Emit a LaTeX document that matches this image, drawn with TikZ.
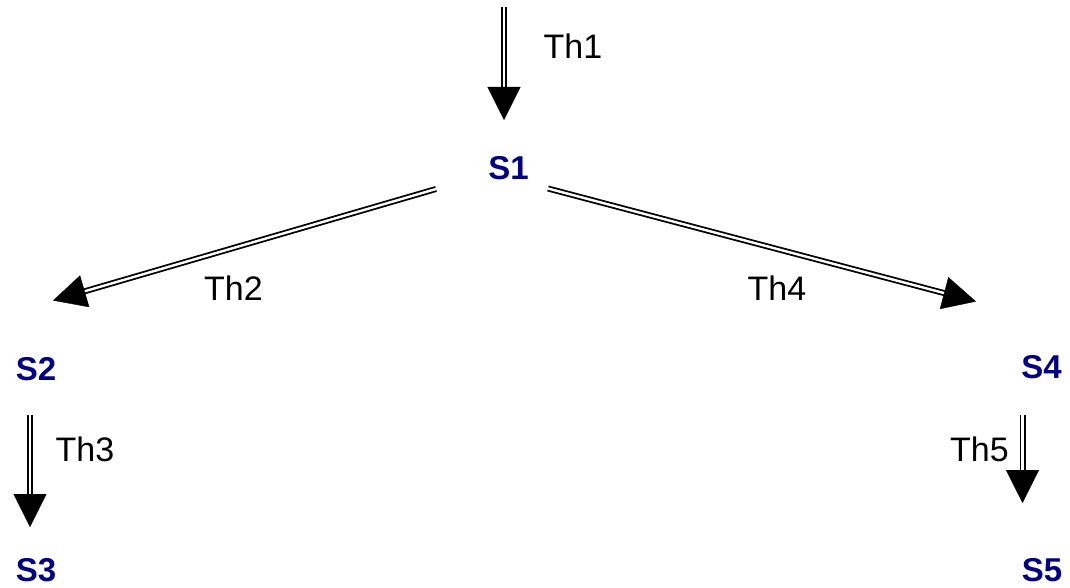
\documentclass[tikz,border=0pt]{standalone}
\usepackage{fontspec}
\setmainfont{Liberation Sans}
\usetikzlibrary{arrows.meta,calc}
\definecolor{statecol}{RGB}{0,0,128}
\begin{document}
\begin{tikzpicture}[x=1pt,y=-1pt,
  state/.style={inner sep=0pt, text=statecol, font=\fontsize{33}{38}\selectfont\bfseries},
  thlabel/.style={inner sep=0pt, font=\fontsize{34}{40}\selectfont},
  shaft/.style={line width=1.8pt, double=white, double distance=2.4pt, shorten >=31pt},
  head/.style={line width=0.4pt, -{Triangle[length=33pt,width=33pt]}}]
\useasboundingbox (0,0) rectangle (1070,588);

% states
\node[state] (s1) at (508.5,168.5) {S1};
\node[state] (s2) at (36,369) {S2};
\node[state] (s3) at (36,570) {S3};
\node[state] (s4) at (1041.5,367.5) {S4};
\node[state] (s5) at (1042,570) {S5};

% transition labels
\node[thlabel] (t1) at (573,46) {Th1};
\node[thlabel] (t2) at (233.5,288) {Th2};
\node[thlabel] (t3) at (85,449) {Th3};
\node[thlabel] (t4) at (777,288) {Th4};
\node[thlabel] (t5) at (979.5,449) {Th5};

% arrow end points
\coordinate (a1s) at (504,7);     \coordinate (a1e) at (504,120);
\coordinate (a2s) at (436,189);   \coordinate (a2e) at (53,300.5);
\coordinate (a3s) at (30,415);    \coordinate (a3e) at (30,527);
\coordinate (a4s) at (548,188.5); \coordinate (a4e) at (976,301.5);
\coordinate (a5s) at (1022.5,415);\coordinate (a5e) at (1022.5,503);

% double shafts
\foreach \a in {a1,a2,a3,a4,a5}
  \draw[shaft] (\a s) -- (\a e);
% filled heads
\foreach \a in {a1,a2,a3,a4,a5}
  \draw[head] ($(\a e)!33pt!(\a s)$) -- (\a e);
\end{tikzpicture}
\end{document}
